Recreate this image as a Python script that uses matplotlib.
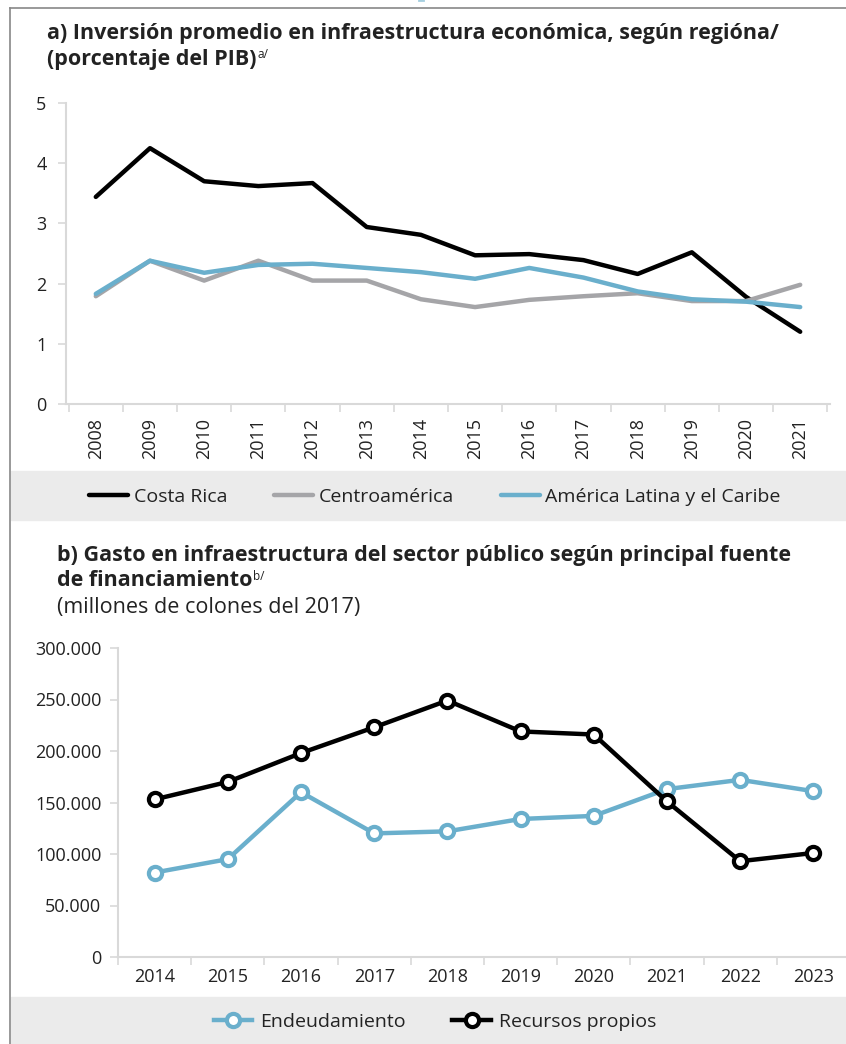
import matplotlib
matplotlib.use("Agg")
import matplotlib.pyplot as plt
from matplotlib.ticker import FuncFormatter
from matplotlib.lines import Line2D
from matplotlib.patches import Rectangle

plt.rcParams['font.family'] = ['Open Sans', 'DejaVu Sans']

# data chart a (porcentaje del PIB)
years_a = [2008, 2009, 2010, 2011, 2012, 2013, 2014, 2015, 2016, 2017, 2018, 2019, 2020, 2021]
costa_rica = [3.44, 4.25, 3.70, 3.62, 3.67, 2.94, 2.81, 2.47, 2.49, 2.39, 2.16, 2.52, 1.78, 1.20]
centroamerica = [1.79, 2.38, 2.05, 2.38, 2.05, 2.05, 1.74, 1.61, 1.73, 1.79, 1.84, 1.71, 1.71, 1.98]
alc = [1.83, 2.38, 2.18, 2.31, 2.33, 2.26, 2.19, 2.08, 2.26, 2.10, 1.87, 1.74, 1.70, 1.61]

# data chart b (millones de colones del 2017)
years_b = [2014, 2015, 2016, 2017, 2018, 2019, 2020, 2021, 2022, 2023]
endeudamiento = [82000, 95000, 160000, 120000, 122000, 134000, 137000, 163000, 172000, 161000]
recursos = [153000, 170000, 198000, 223000, 249000, 219000, 216000, 151000, 93000, 101000]

BLACK = '#000000'
GREY = '#a5a5a8'
BLUE = '#6aafcc'
AXC = '#d9d9d9'
TXT = '#222222'
W, H = 846, 1044
TS = 15.5  # title size

fig = plt.figure(figsize=(W / 100, H / 100), dpi=100)

def fx(px):
    return px / W

def fy(py):
    return 1 - py / H

# frame lines
fig.add_artist(Line2D([fx(10), fx(10)], [0, fy(8)], color='#888888', lw=1.2))
fig.add_artist(Line2D([fx(10), 1], [fy(8), fy(8)], color='#888888', lw=1.2))
fig.add_artist(Line2D([fx(419), fx(423)], [1, 1], color=BLUE, lw=2, alpha=0.6))

# legend bands
fig.add_artist(Rectangle((fx(11), fy(520)), 1, (520 - 471) / H, color='#ebebeb', zorder=0))
fig.add_artist(Rectangle((fx(11), 0), 1, (1044 - 997) / H, color='#ebebeb', zorder=0))

renderer = fig.canvas.get_renderer()

def title_with_sup(x, y, text, sup, bold=True):
    t = fig.text(fx(x), fy(y), text, fontsize=TS, fontweight='bold' if bold else 'normal',
                 color=TXT, va='center', ha='left')
    bb = t.get_window_extent(renderer)
    fig.text(bb.x1 / W + 0.001, fy(y - 5), sup, fontsize=8.5, color=TXT, va='center', ha='left')

# titles a
fig.text(fx(47), fy(33), 'a) Inversión promedio en infraestructura económica, según regióna/',
         fontsize=TS, fontweight='bold', color=TXT, va='center')
title_with_sup(47, 60, '(porcentaje del PIB)', 'a/')

# chart a
ax1 = fig.add_axes([fx(66), fy(404), fx(830) - fx(66), fy(103) - fy(404)])
xa = list(range(len(years_a)))
ax1.plot(xa, costa_rica, color=BLACK, lw=3.2, label='Costa Rica', solid_capstyle='round')
ax1.plot(xa, centroamerica, color=GREY, lw=3.2, label='Centroamérica', solid_capstyle='round')
ax1.plot(xa, alc, color=BLUE, lw=3.2, label='América Latina y el Caribe', solid_capstyle='round')
ax1.set_xlim(-0.55, len(years_a) - 0.45)
ax1.set_ylim(0, 5)
ax1.set_yticks([0, 1, 2, 3, 4, 5])
ax1.set_xticks(xa)
ax1.set_xticklabels([str(y) for y in years_a], rotation=90)
ax1.set_xticks([i - 0.5 for i in range(len(years_a) + 1)], minor=True)
ax1.tick_params(axis='x', which='major', length=0, pad=10, labelsize=13, labelcolor=TXT)
ax1.tick_params(axis='x', which='minor', length=6, color=AXC, width=1.2)
ax1.tick_params(axis='y', length=6, color=AXC, width=1.2, pad=8, labelsize=13, labelcolor=TXT)
for s in ['top', 'right']:
    ax1.spines[s].set_visible(False)
for s in ['left', 'bottom']:
    ax1.spines[s].set_color(AXC)
    ax1.spines[s].set_linewidth(1.5)

h1, l1 = ax1.get_legend_handles_labels()
fig.legend(h1, l1, loc='center', bbox_to_anchor=(fx(435), fy(497)), ncol=3, frameon=False,
           fontsize=14, handlelength=2.0, handletextpad=0.3, columnspacing=2.4, labelcolor=TXT)

# titles b
fig.text(fx(57), fy(555), 'b) Gasto en infraestructura del sector público según principal fuente',
         fontsize=TS, fontweight='bold', color=TXT, va='center')
title_with_sup(57, 581, 'de financiamiento', 'b/')
fig.text(fx(57), fy(607), '(millones de colones del 2017)', fontsize=TS, color=TXT, va='center')

# chart b
ax2 = fig.add_axes([fx(118), fy(957), fx(850) - fx(118), fy(648) - fy(957)])
xb = list(range(len(years_b)))
ax2.plot(xb, endeudamiento, color=BLUE, lw=3.2, marker='o', markersize=9.5, markerfacecolor='white',
         markeredgecolor=BLUE, markeredgewidth=3, label='Endeudamiento')
ax2.plot(xb, recursos, color=BLACK, lw=3.2, marker='o', markersize=9.5, markerfacecolor='white',
         markeredgecolor=BLACK, markeredgewidth=3, label='Recursos propios')
ax2.set_xlim(-0.5, len(years_b) - 0.5)
ax2.set_ylim(0, 300000)
ax2.set_yticks(range(0, 300001, 50000))
ax2.yaxis.set_major_formatter(FuncFormatter(lambda v, p: f'{int(v):,}'.replace(',', '.')))
ax2.set_xticks(xb)
ax2.set_xticklabels([str(y) for y in years_b])
ax2.set_xticks([i - 0.5 for i in range(len(years_b) + 1)], minor=True)
ax2.tick_params(axis='x', which='major', length=0, pad=8, labelsize=13, labelcolor=TXT)
ax2.tick_params(axis='x', which='minor', length=6, color=AXC, width=1.2)
ax2.tick_params(axis='y', length=6, color=AXC, width=1.2, pad=6, labelsize=13, labelcolor=TXT)
for s in ['top', 'right']:
    ax2.spines[s].set_visible(False)
for s in ['left', 'bottom']:
    ax2.spines[s].set_color(AXC)
    ax2.spines[s].set_linewidth(1.5)

h2, l2 = ax2.get_legend_handles_labels()
fig.legend(h2, l2, loc='center', bbox_to_anchor=(fx(435), fy(1022)), ncol=2, frameon=False,
           fontsize=14, handlelength=2.0, handletextpad=0.4, columnspacing=2.4, labelcolor=TXT)

fig.savefig('out.png', dpi=100)
